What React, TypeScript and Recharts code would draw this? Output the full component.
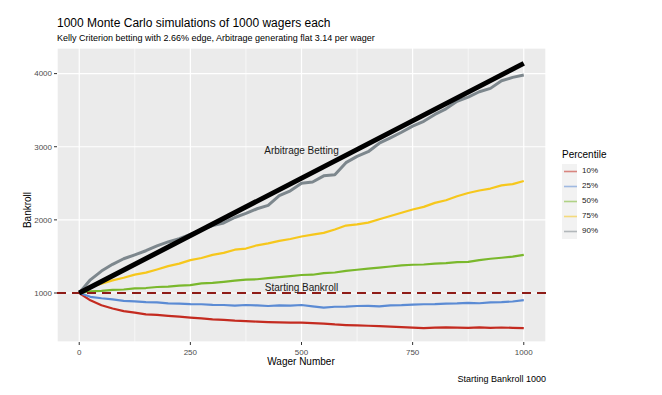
import {
  CartesianGrid,
  ComposedChart,
  Line,
  ReferenceDot,
  ReferenceLine,
  XAxis,
  YAxis,
} from 'recharts';

const wagers = [
  0, 25, 50, 75, 100, 125, 150, 175, 200, 225, 250, 275, 300, 325, 350, 375, 400, 425, 450, 475, 500,
  525, 550, 575, 600, 625, 650, 675, 700, 725, 750, 775, 800, 825, 850, 875, 900, 925, 950, 975, 1000,
];
const p10 = [
  1000, 900, 832, 788, 752, 732, 708, 702, 688, 676, 664, 652, 640, 632, 622, 616, 608, 602, 598, 596, 594,
  588, 582, 570, 562, 556, 552, 546, 540, 534, 526, 520, 526, 530, 527, 524, 530, 524, 528, 524, 520,
];
const p25 = [
  1000, 948, 928, 912, 893, 886, 874, 872, 858, 856, 848, 846, 838, 836, 828, 836, 830, 822, 832, 828, 836,
  818, 800, 812, 814, 822, 824, 818, 832, 834, 840, 846, 848, 856, 858, 866, 860, 872, 876, 884, 902,
];
const p50 = [
  1000, 1022, 1030, 1042, 1048, 1062, 1068, 1082, 1088, 1102, 1108, 1132, 1138, 1152, 1168, 1182, 1188, 1204, 1218, 1232, 1246,
  1250, 1272, 1280, 1302, 1318, 1332, 1348, 1362, 1378, 1386, 1390, 1402, 1408, 1422, 1426, 1450, 1468, 1482, 1498, 1522,
];
const p75 = [
  1000, 1082, 1128, 1172, 1208, 1252, 1278, 1322, 1368, 1402, 1450, 1478, 1522, 1548, 1592, 1608, 1652, 1678, 1712, 1738, 1772,
  1798, 1822, 1868, 1922, 1938, 1962, 2008, 2052, 2098, 2142, 2178, 2232, 2268, 2322, 2368, 2402, 2428, 2472, 2488, 2532,
];
const p90 = [
  1000, 1180, 1300, 1392, 1468, 1522, 1578, 1644, 1698, 1742, 1802, 1868, 1922, 1958, 2032, 2088, 2152, 2198, 2332, 2398, 2502,
  2518, 2602, 2618, 2782, 2868, 2932, 3048, 3122, 3198, 3282, 3348, 3442, 3518, 3622, 3678, 3752, 3798, 3902, 3948, 3980,
];
const arbWagers = [0, 1000];
const arbValues = [1000, 4140];

const percentiles = ['10%', '25%', '50%', '75%', '90%'];
const keys = ['p10', 'p25', 'p50', 'p75', 'p90'];
const colors = ['#c42b20', '#5b8bd4', '#7ab82c', '#f6c71c', '#7d878d'];

const xTicks = [0, 250, 500, 750, 1000];
const xMinor = [125, 375, 625, 875];
const yTicks = [1000, 2000, 3000, 4000];
const yMinor = [500, 1500, 2500, 3500];

const data = wagers.map((x, i) => ({
  x,
  p10: p10[i],
  p25: p25[i],
  p50: p50[i],
  p75: p75[i],
  p90: p90[i],
}));
const arbData = arbWagers.map((x, i) => ({ x, v: arbValues[i] }));

const FONT = '"Liberation Sans", Arial, sans-serif';

const abs = (o: React.CSSProperties): React.CSSProperties => ({
  position: 'absolute',
  whiteSpace: 'nowrap',
  fontFamily: FONT,
  lineHeight: 1,
  ...o,
});

export default function App() {
  const tick = { fill: '#4d4d4d', fontSize: 8, fontFamily: FONT };
  return (
    <div style={{ position: 'fixed', left: 0, top: 0, width: 662, height: 395, background: '#fff' }}>
      <ComposedChart
        width={662}
        height={395}
        data={data}
        margin={{ top: 48, right: 116, left: 0, bottom: 0 }}
      >
        <XAxis xAxisId="minor" dataKey="x" type="number" domain={[-50, 1050]} ticks={xMinor} hide />
        <YAxis yAxisId="minor" type="number" domain={[330, 4350]} ticks={yMinor} hide />
        <CartesianGrid
          xAxisId="minor"
          yAxisId="minor"
          stroke="#ffffff"
          strokeWidth={0.6}
          fill="#ebebeb"
          fillOpacity={1}
        />
        <CartesianGrid stroke="#ffffff" strokeWidth={1.2} />
        <XAxis
          dataKey="x"
          type="number"
          domain={[-50, 1050]}
          ticks={xTicks}
          height={53}
          axisLine={false}
          tickSize={3}
          tickMargin={4}
          tickLine={{ stroke: '#333' }}
          tick={tick}
        />
        <YAxis
          type="number"
          domain={[330, 4350]}
          ticks={yTicks}
          width={57}
          axisLine={false}
          tickSize={3}
          tickMargin={2}
          tickLine={{ stroke: '#333' }}
          tick={tick}
        />
        {keys.map((k, i) => (
          <Line
            key={k}
            dataKey={k}
            type="linear"
            stroke={colors[i]}
            strokeWidth={k === 'p90' ? 3 : 2.2}
            strokeLinejoin="round"
            dot={false}
            isAnimationActive={false}
          />
        ))}
        <ReferenceLine y={1000} stroke="#8e1c17" strokeWidth={2.2} strokeDasharray="9 6" />
        <Line
          data={arbData}
          dataKey="v"
          type="linear"
          stroke="#000"
          strokeWidth={5}
          dot={false}
          isAnimationActive={false}
        />
        <ReferenceDot
          x={500}
          y={2950}
          r={0}
          fill="none"
          stroke="none"
          label={{ value: 'Arbitrage Betting', position: 'center', fill: '#1a1a1a', fontSize: 10, fontFamily: FONT }}
        />
        <ReferenceDot
          x={500}
          y={1075}
          r={0}
          fill="none"
          stroke="none"
          label={{ value: 'Starting Bankroll', position: 'center', fill: '#1a1a1a', fontSize: 10, fontFamily: FONT }}
        />
      </ComposedChart>

      <div style={abs({ left: 57, top: 17, fontSize: 12, color: '#000' })}>
        1000 Monte Carlo simulations of 1000 wagers each
      </div>
      <div style={abs({ left: 57, top: 33.5, fontSize: 9, color: '#000' })}>
        Kelly Criterion betting with 2.66% edge, Arbitrage generating flat 3.14 per wager
      </div>
      <div style={abs({ left: 301, top: 357, fontSize: 10, color: '#000', transform: 'translateX(-50%)' })}>
        Wager Number
      </div>
      <div
        style={abs({
          left: 28,
          top: 210,
          fontSize: 10,
          color: '#000',
          transform: 'translate(-50%, -50%) rotate(-90deg)',
        })}
      >
        Bankroll
      </div>
      <div style={abs({ right: 116, top: 374.5, fontSize: 9, color: '#000' })}>Starting Bankroll 1000</div>

      <div style={abs({ left: 562, top: 150, fontSize: 10, color: '#000' })}>Percentile</div>
      {percentiles.map((p, i) => (
        <div key={p} style={abs({ left: 562, top: 163.5 + i * 15, height: 15 })}>
          <svg width={15} height={15} style={{ position: 'absolute', left: 0, top: 0 }}>
            <rect x={0} y={0} width={15} height={15} fill="#f2f2f2" />
            <line x1={2} x2={15} y1={7.5} y2={7.5} stroke={colors[i]} strokeOpacity={0.55} strokeWidth={1.6} />
          </svg>
          <span style={{ position: 'absolute', left: 20, top: 3.5, fontSize: 8, color: '#1a1a1a' }}>{p}</span>
        </div>
      ))}
    </div>
  );
}
